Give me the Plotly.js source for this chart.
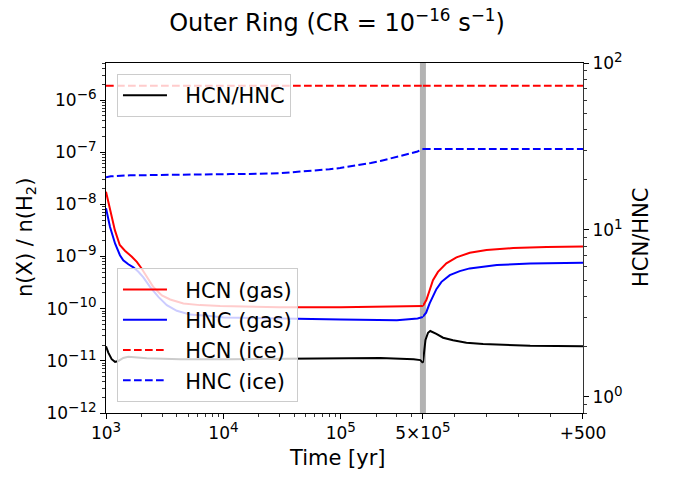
<!DOCTYPE html>
<html><head><meta charset="utf-8">
<script src="https://cdn.plot.ly/plotly-3.0.1.min.js"></script>
<style>html,body{margin:0;padding:0;background:#fff}#chart{width:674px;height:477px}</style>
</head><body><div id="chart"></div>
<script>
// ---------- Phase 1 (log time, 1e3 .. 5e5 yr) ----------
const hcnGasT = [1000,1080,1190,1310,1450,1660,1830,2010,2220,2530,2990,3520,4560,6320,9380,30000,100000,300000,500000];
const hcnGasV = [1.75e-8,7.8e-9,3.2e-9,1.66e-9,1.29e-9,9.9e-10,7.9e-10,5.9e-10,4.1e-10,2.6e-10,1.8e-10,1.5e-10,1.26e-10,1.17e-10,1.12e-10,1.07e-10,1.07e-10,1.09e-10,1.13e-10];
const hncGasT = [1000,1081,1194,1315,1403,1549,1710,1888,2080,2371,2793,3296,4009,5212,7709,10000,100000,300000,450000,500000];
const hncGasV = [8.4e-9,3.72e-9,1.78e-9,1.06e-9,8.5e-10,7.1e-10,6.2e-10,5.1e-10,3.97e-10,2.62e-10,1.68e-10,1.17e-10,9.1e-11,7.7e-11,7.2e-11,6.8e-11,6.2e-11,6.0e-11,6.5e-11,6.9e-11];
const hcnIceT = [1000,500000];
const hcnIceV = [1.88e-6,1.88e-6];
const hncIceT = [1000,1100,1600,3080,11400,20000,30000,45000,60000,80000,98500,120000,150000,180000,217000,250000,320000,400000,450000,493000,500000];
const hncIceV = [3.3e-8,3.45e-8,3.6e-8,3.7e-8,3.8e-8,3.85e-8,3.95e-8,4.25e-8,4.45e-8,4.7e-8,4.98e-8,5.3e-8,5.75e-8,6.2e-8,6.78e-8,7.3e-8,8.4e-8,9.6e-8,1.03e-7,1.12e-7,1.15e-7];
const ratioT = [1000,1046,1118,1194,1274,1403,1549,1710,2223,4276,11400,217000,320000,417000,475000,500000];
const ratioV = [2.01,1.84,1.68,1.62,1.64,1.71,1.74,1.73,1.70,1.68,1.68,1.71,1.70,1.68,1.66,1.60];

// ---------- Phase 2 (linear, +0 .. +500 yr) ----------
const hcnGas2S = [0,10.7,21,31.4,47,73.3,104.7,146.4,198.7,282,386.5,500];
const hcnGas2V = [1.13e-10,1.46e-10,2.26e-10,3.52e-10,5.08e-10,7.38e-10,9.61e-10,1.18e-9,1.33e-9,1.45e-9,1.53e-9,1.56e-9];
const hncGas2S = [0,10,21,31,42,58,84,115,146,231,335,500];
const hncGas2V = [7.0e-11,8.4e-11,1.26e-10,1.66e-10,2.37e-10,3.27e-10,4.40e-10,5.25e-10,5.92e-10,6.84e-10,7.38e-10,7.57e-10];
const hcnIce2S = [0,500];
const hcnIce2V = [1.88e-6,1.88e-6];
const hncIce2S = [0,500];
const hncIce2V = [1.15e-7,1.15e-7];
const ratio2S = [0,2,8,16,23,42,63,94,136,188,240,335,500];
const ratio2V = [1.60,1.74,2.19,2.42,2.48,2.38,2.26,2.18,2.11,2.07,2.045,2.02,2.01];

// ---------- tick labels ----------
const sup = s => '<sup><span style="font-size:13.5px">' + s + '</span></sup>';
const xTickVals = [1e3,1e4,1e5];
const xTickText = ['10'+sup('3'),'10'+sup('4'),'10'+sup('5')];
const x2TickVals = [0,500];
const x2TickText = ['5×10'+sup('5'),'+500'];
const yTickVals = [1e-12,1e-11,1e-10,1e-9,1e-8,1e-7,1e-6];
const yTickText = ['10'+sup('−12'),'10'+sup('−11'),'10'+sup('−10'),'10'+sup('−9'),'10'+sup('−8'),'10'+sup('−7'),'10'+sup('−6')];
const y2TickVals = [1,10,100];
const y2TickText = ['10'+sup('0'),'10'+sup('1'),'10'+sup('2')];

function minorLog(lo, hi){ // minor ticks 2..9 per decade within [lo,hi]
  const out=[];
  for(let e=Math.floor(Math.log10(lo)); e<=Math.ceil(Math.log10(hi)); e++){
    for(let m=2;m<=9;m++){const v=m*Math.pow(10,e); if(v>=lo*0.999 && v<=hi*1.001) out.push(v);}
  }
  return out;
}

const FONT = 'DejaVu Sans, sans-serif';
const RED='#ff0000', BLUE='#0000ff';
const LW=2, DASH='7.7px,3.3px';
const split = 0.6644;
const NB = '\u00a0\u00a0';

const traces = [
  {x:ratioT, y:ratioV, xaxis:'x', yaxis:'y2', mode:'lines', name:NB+'HCN/HNC', line:{color:'black',width:LW}, legend:'legend'},
  {x:ratio2S, y:ratio2V, xaxis:'x2', yaxis:'y2', mode:'lines', showlegend:false, line:{color:'black',width:LW}},
  {x:hcnGasT, y:hcnGasV, xaxis:'x', yaxis:'y', mode:'lines', name:NB+'HCN (gas)', line:{color:RED,width:LW}, legend:'legend2'},
  {x:hncGasT, y:hncGasV, xaxis:'x', yaxis:'y', mode:'lines', name:NB+'HNC (gas)', line:{color:BLUE,width:LW}, legend:'legend2'},
  {x:hcnIceT, y:hcnIceV, xaxis:'x', yaxis:'y', mode:'lines', name:NB+'HCN (ice)', line:{color:RED,width:LW,dash:DASH}, legend:'legend2'},
  {x:hncIceT, y:hncIceV, xaxis:'x', yaxis:'y', mode:'lines', name:NB+'HNC (ice)', line:{color:BLUE,width:LW,dash:DASH}, legend:'legend2'},
  {x:hcnGas2S, y:hcnGas2V, xaxis:'x2', yaxis:'y', mode:'lines', showlegend:false, line:{color:RED,width:LW}},
  {x:hncGas2S, y:hncGas2V, xaxis:'x2', yaxis:'y', mode:'lines', showlegend:false, line:{color:BLUE,width:LW}},
  {x:hcnIce2S, y:hcnIce2V, xaxis:'x2', yaxis:'y', mode:'lines', showlegend:false, line:{color:RED,width:LW,dash:DASH}},
  {x:hncIce2S, y:hncIce2V, xaxis:'x2', yaxis:'y', mode:'lines', showlegend:false, line:{color:BLUE,width:LW,dash:DASH}}
];

const axBase = {showgrid:false, zeroline:false, showline:true, linecolor:'black', linewidth:1,
  ticks:'outside', ticklen:5, tickwidth:1, tickcolor:'black',
  tickfont:{family:FONT,size:17,color:'black'}};
const minorBase = {ticks:'outside', ticklen:3, tickwidth:0.8, tickcolor:'black', showgrid:false};

const legBase = {bgcolor:'rgba(255,255,255,0.8)', bordercolor:'#cccccc', borderwidth:1,
  font:{family:FONT,size:21,color:'black'}, xanchor:'left', itemwidth:44};

const layout = {
  width:674, height:477,
  margin:{l:106, r:91, t:63, b:64, pad:0},
  paper_bgcolor:'white', plot_bgcolor:'white',
  font:{family:FONT, color:'black'},
  title:{text:'Outer Ring (CR = 10<sup>−16</sup> s<sup>−1</sup>)', font:{family:FONT,size:24,color:'black'},
         xref:'container', x:0.5, xanchor:'center', yref:'container', y:1-23/477, yanchor:'middle'},
  showlegend:true,
  xaxis:Object.assign({}, axBase, {type:'log', domain:[0,split], range:[3, Math.log10(5e5)], anchor:'y',
    tickmode:'array', tickvals:xTickVals, ticktext:xTickText, mirror:true,
    minor:Object.assign({}, minorBase, {tickmode:'array', tickvals:minorLog(2e3,4e5)})}),
  xaxis2:Object.assign({}, axBase, {type:'linear', domain:[split,1], range:[0,500], anchor:'y',
    tickmode:'array', tickvals:x2TickVals, ticktext:x2TickText, mirror:true,
    minor:Object.assign({}, minorBase, {tickmode:'array', tickvals:[100,200,300,400]})}),
  yaxis:Object.assign({}, axBase, {type:'log', range:[-12,-5.29], anchor:'x',
    tickmode:'array', tickvals:yTickVals, ticktext:yTickText,
    minor:Object.assign({}, minorBase, {tickmode:'array', tickvals:minorLog(1e-12,5e-6)})}),
  yaxis2:Object.assign({}, axBase, {type:'log', range:[Math.log10(0.8),2], anchor:'x2', overlaying:'y', side:'right',
    tickmode:'array', tickvals:y2TickVals, ticktext:y2TickText, linecolor:'#333',
    minor:Object.assign({}, minorBase, {tickmode:'array', tickvals:minorLog(0.8,99)})}),
  legend:Object.assign({}, legBase, {x:0.023, y:0.9686, yanchor:'top'}),
  legend2:Object.assign({}, legBase, {x:0.023, y:0.0306, yanchor:'bottom'}),
  shapes:[{type:'rect', xref:'paper', yref:'paper', x0:split-3/477, x1:split+3/477, y0:0, y1:1,
           fillcolor:'#b3b3b3', line:{width:0}, layer:'below'}],
  annotations:[
    {text:'Time [yr]', xref:'paper', yref:'paper', x:(337-106)/477, y:(413-458)/350, xanchor:'center', yanchor:'middle',
     showarrow:false, font:{family:FONT,size:21,color:'black'}},
    {text:'n(X) / n(H<sub>2</sub>)', xref:'paper', yref:'paper', x:(26-106)/477, y:0.5, xanchor:'center', yanchor:'middle',
     textangle:-90, showarrow:false, font:{family:FONT,size:21,color:'black'}},
    {text:'HCN/HNC', xref:'paper', yref:'paper', x:(641-106)/477, y:0.5, xanchor:'center', yanchor:'middle',
     textangle:-90, showarrow:false, font:{family:FONT,size:21,color:'black'}}
  ]
};

Plotly.newPlot('chart', traces, layout, {displayModeBar:false, staticPlot:true});
</script>
</body></html>
